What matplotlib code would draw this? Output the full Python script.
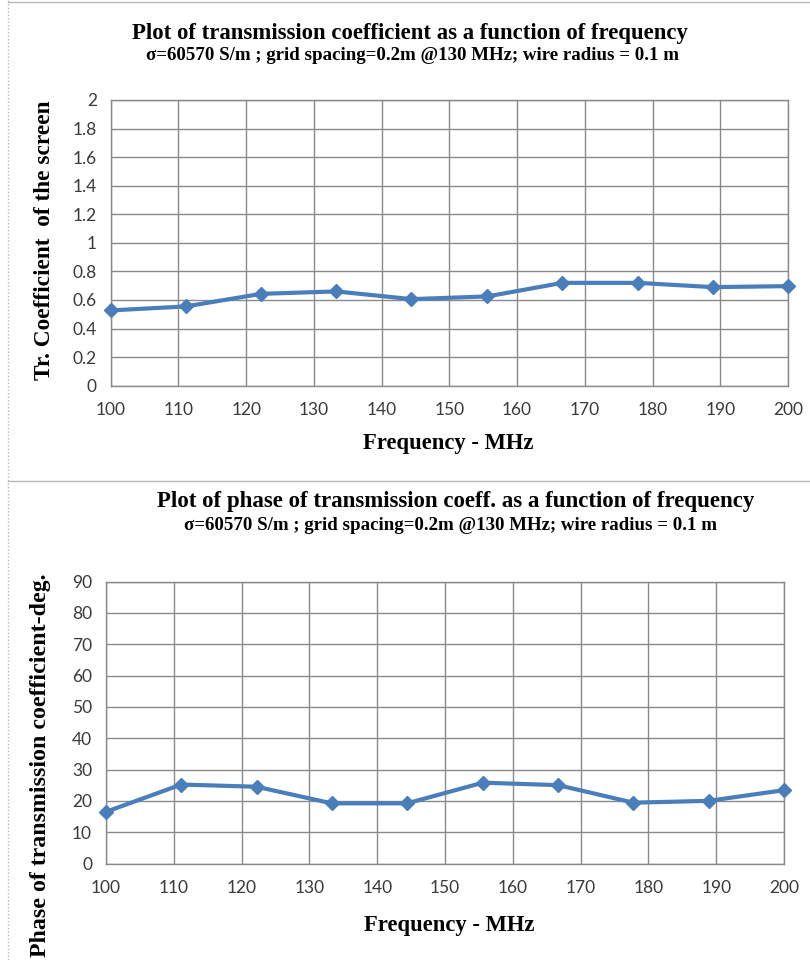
import matplotlib
matplotlib.use("Agg")
import matplotlib.pyplot as plt
from matplotlib.lines import Line2D

# Frequency sweep (MHz): 10 equally spaced points between 100 and 200
freq_mhz = [100.0, 111.1, 122.2, 133.3, 144.4, 155.6, 166.7, 177.8, 188.9, 200.0]
tr_coeff = [0.527, 0.555, 0.643, 0.66, 0.606, 0.625, 0.72, 0.72, 0.69, 0.697]
phase_deg = [16.5, 25.2, 24.5, 19.2, 19.2, 25.8, 25.0, 19.4, 20.0, 23.4]

x_ticks = [100, 110, 120, 130, 140, 150, 160, 170, 180, 190, 200]
y1_ticks = [0, 0.2, 0.4, 0.6, 0.8, 1, 1.2, 1.4, 1.6, 1.8, 2]
y1_labels = ["0", "0.2", "0.4", "0.6", "0.8", "1", "1.2", "1.4", "1.6", "1.8", "2"]
y2_ticks = [0, 10, 20, 30, 40, 50, 60, 70, 80, 90]

title1 = "Plot of transmission coefficient as a function of frequency"
title2 = "Plot of phase of transmission coeff. as a function of frequency"
subtitle = "\u03c3=60570 S/m ; grid spacing=0.2m @130 MHz; wire radius = 0.1 m"
xlabel = "Frequency - MHz"
ylabel1 = "Tr. Coefficient  of the screen"
ylabel2 = "Phase of transmission coefficient-deg."

LINE_COLOR = "#4a7ebb"
GRID_COLOR = "#8a8a8a"
TICK_COLOR = "#3a3a3a"
SERIF = "Liberation Serif"
SANS = "Lato"

W, H = 810, 960
fig = plt.figure(figsize=(W / 100, H / 100), dpi=100)
fig.patch.set_facecolor("white")


def fx(px):
    return px / W


def fy(py):
    return 1 - py / H


def style_axes(ax, yticks, ylabels, ylim):
    ax.set_xlim(100, 200)
    ax.set_ylim(*ylim)
    ax.set_xticks(x_ticks)
    ax.set_yticks(yticks)
    ax.set_yticklabels(ylabels)
    ax.grid(True, color=GRID_COLOR, linewidth=1.0)
    ax.set_axisbelow(True)
    for s in ax.spines.values():
        s.set_color(GRID_COLOR)
        s.set_linewidth(1.0)
    ax.tick_params(length=0, pad=10, labelsize=12.5, colors=TICK_COLOR)
    for lab in ax.get_xticklabels() + ax.get_yticklabels():
        lab.set_fontfamily(SANS)
    ax.tick_params(axis="x", pad=12)


def draw_series(ax, y):
    ax.plot(freq_mhz, y, color=LINE_COLOR, linewidth=3, marker="D",
            markersize=7.5, markerfacecolor=LINE_COLOR,
            markeredgecolor=LINE_COLOR, zorder=3, clip_on=False)


# Upper panel: magnitude of transmission coefficient
ax1 = fig.add_axes([fx(110.7), fy(385.7), fx(788 - 110.7), (385.7 - 100) / H])
draw_series(ax1, tr_coeff)
style_axes(ax1, y1_ticks, y1_labels, (0, 2))

# Lower panel: phase of transmission coefficient
ax2 = fig.add_axes([fx(106), fy(863.5), fx(784 - 106), (863.5 - 581.5) / H])
draw_series(ax2, phase_deg)
style_axes(ax2, y2_ticks, [str(v) for v in y2_ticks], (0, 90))

# Titles, subtitles and axis labels
bold_serif = dict(fontfamily=SERIF, fontweight="bold", ha="center", va="center")
fig.text(fx(410), fy(33), title1, fontsize=16.4, **bold_serif)
fig.text(fx(412), fy(56), subtitle, fontsize=13.6, **bold_serif)
fig.text(fx(456), fy(502), title2, fontsize=16.5, **bold_serif)
fig.text(fx(451), fy(525), subtitle, fontsize=13.6, **bold_serif)

fig.text(fx(448), fy(443), xlabel, fontsize=16.3, **bold_serif)
fig.text(fx(449), fy(925), xlabel, fontsize=16.3, **bold_serif)
fig.text(fx(45), fy(240), ylabel1, rotation=90, fontsize=16.8, **bold_serif)
fig.text(fx(41), fy(765), ylabel2, rotation=90, fontsize=17.2, **bold_serif)

# Chart frames and divider between the two charts
frame_kw = dict(color="#b8b8b8", linewidth=1.0, transform=fig.transFigure)
fig.add_artist(Line2D([fx(8), fx(8)], [0, 1], linestyle=(0, (1, 1.5)), **frame_kw))
fig.add_artist(Line2D([fx(8), fx(809)], [fy(2), fy(2)], **frame_kw))
fig.add_artist(Line2D([fx(8), fx(809)], [fy(481), fy(481)], **frame_kw))

fig.savefig("out.png", dpi=100, facecolor="white")
